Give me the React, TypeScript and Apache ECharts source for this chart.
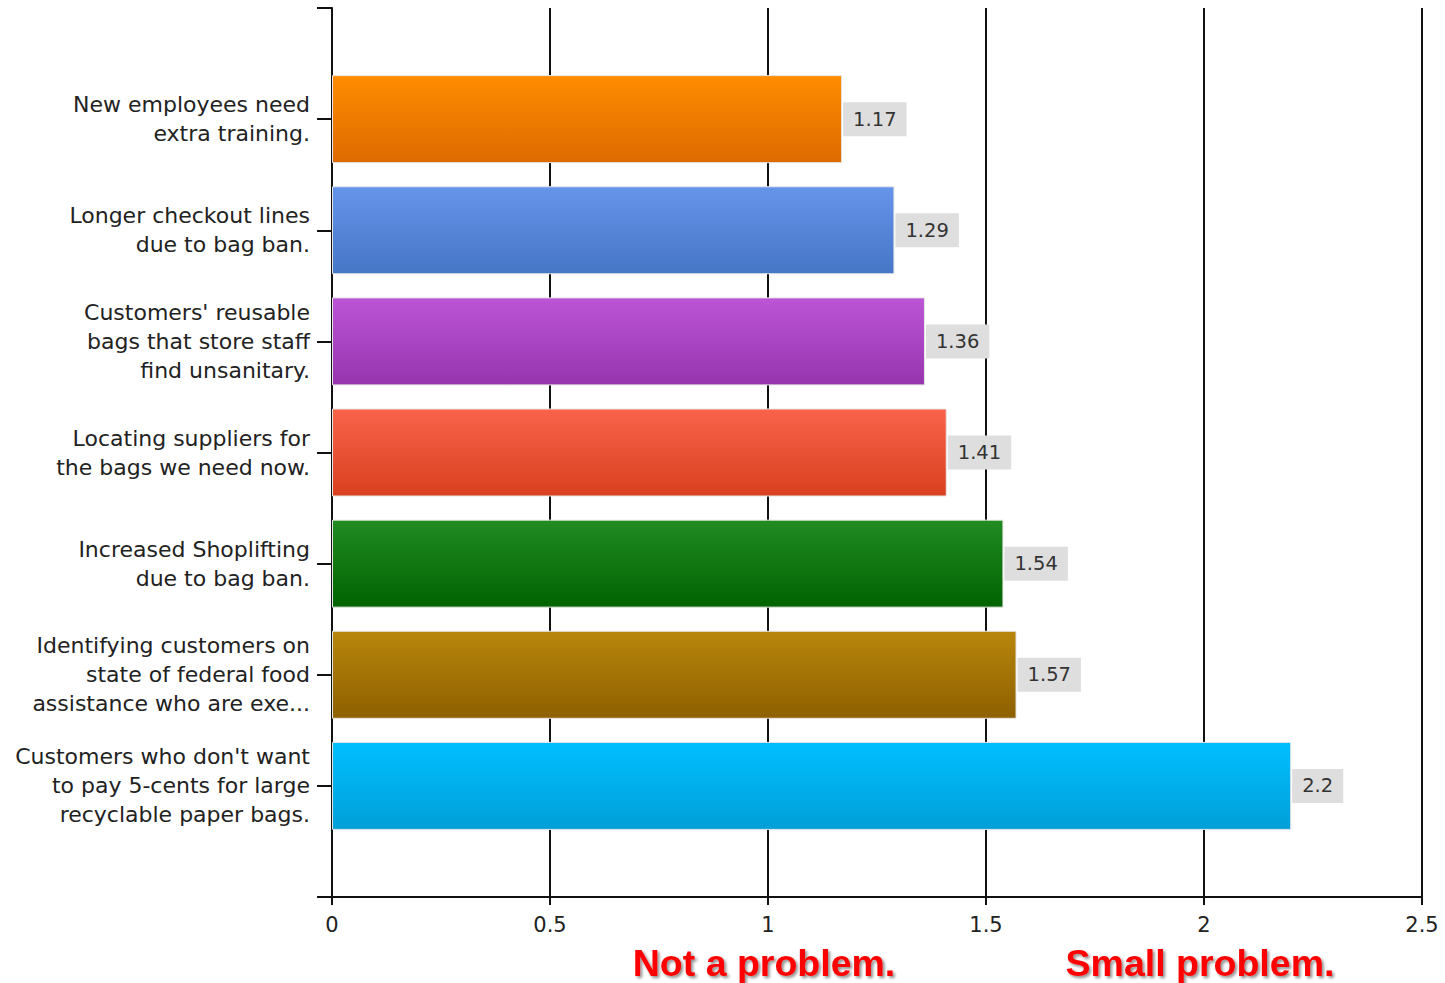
import React, { useEffect, useRef } from "react";
import * as echarts from "echarts";

// Survey items (top to bottom) and their average ratings
const categories: string[] = [
  "New employees need\nextra training.",
  "Longer checkout lines\ndue to bag ban.",
  "Customers' reusable\nbags that store staff\nfind unsanitary.",
  "Locating suppliers for\nthe bags we need now.",
  "Increased Shoplifting\ndue to bag ban.",
  "Identifying customers on\nstate of federal food\nassistance who are exe...",
  "Customers who don't want\nto pay 5-cents for large\nrecyclable paper bags.",
];
const values: number[] = [1.17, 1.29, 1.36, 1.41, 1.54, 1.57, 2.2];

// Gradient stops for each bar (top colour, bottom colour)
const topColors: string[] = ["#FF8C00", "#6694EA", "#BC55D6", "#F9634A", "#228B22", "#B8860B", "#00BFFF"];
const bottomColors: string[] = ["#DD6A00", "#4676C6", "#9634AE", "#D8401F", "#006400", "#8E6000", "#009FD8"];

const xTicks: number[] = [0, 0.5, 1, 1.5, 2, 2.5];
const scaleNotes: { text: string; value: number }[] = [
  { text: "Not a problem.", value: 1 },
  { text: "Small problem.", value: 2 },
];

const FONT = "'DejaVu Sans', sans-serif";

export default function App() {
  const ref = useRef<HTMLDivElement>(null);

  useEffect(() => {
    if (!ref.current) return;
    const chart = echarts.init(ref.current, undefined, { renderer: "svg" });

    const axisCats = ["", ...categories, ""];
    const barData: any[] = [
      "-",
      ...values.map((v, i) => ({
        value: v,
        itemStyle: {
          color: new echarts.graphic.LinearGradient(0, 0, 0, 1, [
            { offset: 0, color: topColors[i] },
            { offset: 1, color: bottomColors[i] },
          ]),
        },
      })),
      "-",
    ];

    const left = 332;
    const right = 23;
    const top = 8;
    const bottom = 86;
    const width = 1445 - left - right;
    const xMax = xTicks[xTicks.length - 1];

    chart.setOption({
      animation: false,
      backgroundColor: "#ffffff",
      textStyle: { fontFamily: FONT },
      grid: { left, right, top, bottom, containLabel: false },
      xAxis: {
        type: "value",
        min: xTicks[0],
        max: xMax,
        interval: 0.5,
        axisLine: { show: true, lineStyle: { color: "#111", width: 2 } },
        axisTick: { show: true, length: 8, lineStyle: { color: "#111", width: 2 } },
        splitLine: { show: true, lineStyle: { color: "#111", width: 2 } },
        axisLabel: {
          color: "#222",
          fontSize: 21,
          margin: 17,
          fontFamily: FONT,
        },
      },
      yAxis: {
        type: "category",
        data: axisCats,
        inverse: true,
        boundaryGap: false,
        axisLine: { show: true, lineStyle: { color: "#111", width: 2 } },
        axisTick: { show: true, length: 15, alignWithLabel: true, interval: 0, lineStyle: { color: "#111", width: 2 } },
        splitLine: { show: false },
        axisLabel: {
          color: "#222",
          fontSize: 22,
          lineHeight: 29,
          margin: 22,
          align: "right",
          interval: 0,
          fontFamily: FONT,
        },
      },
      series: [
        {
          type: "bar",
          data: barData,
          barWidth: 88,
          itemStyle: { borderColor: "#e6e6e6", borderWidth: 1 },
          label: {
            show: true,
            position: "right",
            distance: 1,
            color: "#333",
            fontSize: 19.5,
            lineHeight: 22,
            backgroundColor: "#dedede",
            padding: [6, 10, 6, 10],
            fontFamily: FONT,
          },
        },
      ],
      graphic: scaleNotes.map((n) => ({
        type: "text",
        x: left + (n.value / xMax) * width - 4,
        y: 963,
        style: {
          text: n.text,
          fill: "#ff0000",
          font: "bold 37.5px 'Liberation Sans', Arial, sans-serif",
          align: "center",
          verticalAlign: "middle",
          textShadowColor: "rgba(0,0,0,0.45)",
          textShadowBlur: 3,
          textShadowOffsetX: 2,
          textShadowOffsetY: 2,
        },
      })),
    });

    return () => chart.dispose();
  }, []);

  return (
    <div
      ref={ref}
      style={{ position: "absolute", left: 0, top: 0, width: 1445, height: 983 }}
    />
  );
}
